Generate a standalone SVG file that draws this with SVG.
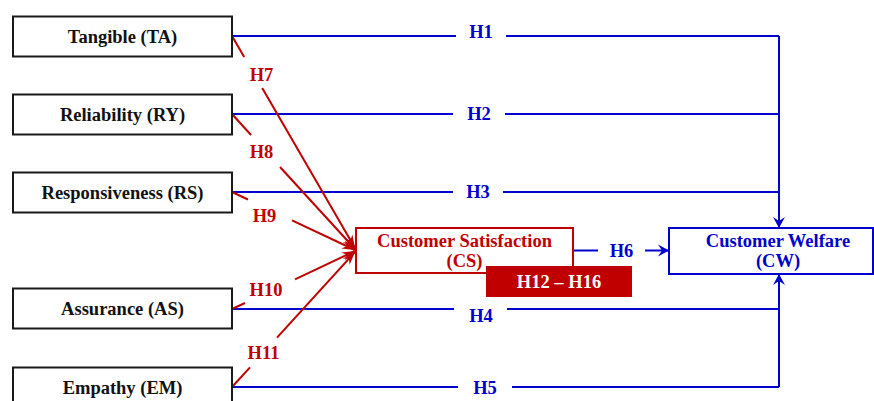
<svg xmlns="http://www.w3.org/2000/svg" width="874" height="401" viewBox="0 0 874 401">
<defs>
<marker id="ab" markerUnits="userSpaceOnUse" markerWidth="14" markerHeight="14" viewBox="-12 -7 14 14" refX="0" refY="0" orient="auto">
<path d="M0,0 L-11,-6 L-7,0 L-11,6 Z" fill="#0000cc"/>
</marker>
<marker id="ar" markerUnits="userSpaceOnUse" markerWidth="16" markerHeight="12" viewBox="-14 -6 16 12" refX="0" refY="0" orient="auto">
<path d="M0,0 L-13,-4.5 L-9,0 L-13,4.5 Z" fill="#c00000"/>
</marker>
</defs>
<style>
text{font-family:"Liberation Serif","Times New Roman",serif;font-weight:bold;font-size:18.5px;text-anchor:middle}
.node rect{fill:#fff;stroke:#1a1a1a;stroke-width:2}
.node text{fill:#111}
.blue{stroke:#0000cc;stroke-width:2;fill:none}
.red{stroke:#c00000;stroke-width:2;fill:none}
.bl{fill:#0000cc}
.rl{fill:#c00000}
</style>
<rect width="874" height="401" fill="#fff"/>
<g id="connectors">
<path class="blue" d="M232,36 H456 M506,36 H779"/>
<path class="blue" d="M779,36 V228" marker-end="url(#ab)"/>
<path class="blue" d="M232,114 H453 M505,114 H779"/>
<path class="blue" d="M232,192 H453 M503,192 H779"/>
<path class="blue" d="M232,309 H454 M507,309 H779"/>
<path class="blue" d="M232,387 H458 M512,387 H779"/>
<path class="blue" d="M779,387 V274" marker-end="url(#ab)"/>
<path class="blue" d="M573,250.5 H598"/>
<path class="blue" d="M645,250.5 H669" marker-end="url(#ab)"/>
<path class="red" d="M232,36 L244.2,57"/>
<path class="red" d="M262.2,88 L355,248" marker-end="url(#ar)"/>
<path class="red" d="M232,114 L251,135"/>
<path class="red" d="M280,167 L355,249" marker-end="url(#ar)"/>
<path class="red" d="M232,192 L248,199.5"/>
<path class="red" d="M292,220.3 L355,250" marker-end="url(#ar)"/>
<path class="red" d="M232,309 L245,303"/>
<path class="red" d="M295,279.3 L355,251" marker-end="url(#ar)"/>
<path class="red" d="M232,387 L250,367.3"/>
<path class="red" d="M277,337.6 L355,252" marker-end="url(#ar)"/>
<text class="bl" x="481" y="38">H1</text>
<text class="bl" x="479" y="120">H2</text>
<text class="bl" x="478" y="198">H3</text>
<text class="bl" x="481" y="322">H4</text>
<text class="bl" x="485" y="394">H5</text>
<text class="bl" x="621.5" y="256.5">H6</text>
<text class="rl" x="261.5" y="81">H7</text>
<text class="rl" x="261.5" y="158">H8</text>
<text class="rl" x="264.5" y="222">H9</text>
<text class="rl" x="266" y="296">H10</text>
<text class="rl" x="263.5" y="359">H11</text>
</g>
<g id="TA" class="node"><rect x="13" y="16.5" width="219" height="40"/><text x="122.5" y="43">Tangible (TA)</text></g>
<g id="RY" class="node"><rect x="13" y="94.5" width="219" height="40"/><text x="122.5" y="121">Reliability (RY)</text></g>
<g id="RS" class="node"><rect x="13" y="172.5" width="219" height="40"/><text x="122.5" y="199">Responsiveness (RS)</text></g>
<g id="AS" class="node"><rect x="13" y="288.5" width="219" height="40"/><text x="122.5" y="315">Assurance (AS)</text></g>
<g id="EM" class="node"><rect x="13" y="367.5" width="219" height="40"/><text x="122.5" y="394">Empathy (EM)</text></g>
<g id="CS"><rect x="356" y="228" width="217" height="45" fill="#fff" stroke="#c00000" stroke-width="2"/><text class="rl" x="464.5" y="246.5">Customer Satisfaction</text><text class="rl" x="464.5" y="266.5">(CS)</text></g>
<g id="CW"><rect x="669" y="228" width="204" height="46" fill="#fff" stroke="#0000cc" stroke-width="2"/><text class="bl" x="778" y="246.5">Customer Welfare</text><text class="bl" x="778" y="266.5">(CW)</text></g>
<g id="H12-H16"><rect x="486" y="266" width="146" height="31" fill="#c00000"/><text x="559" y="288" fill="#fff">H12 – H16</text></g>
</svg>
